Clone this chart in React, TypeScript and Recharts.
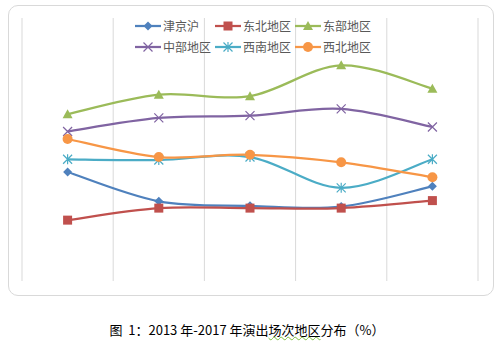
import { LineChart, Line, XAxis, YAxis, CartesianGrid } from 'recharts';

const years = ['2013', '2014', '2015', '2016', '2017'];
const jingjinghu = [14.5, 10.6, 10.0, 9.9, 12.6];
const dongbei = [8.1, 9.7, 9.7, 9.7, 10.7];
const dongbu = [22.2, 24.8, 24.6, 28.7, 25.6];
const zhongbu = [19.9, 21.7, 22.0, 22.9, 20.5];
const xinan = [16.2, 16.1, 16.5, 12.4, 16.2];
const xibei = [18.9, 16.5, 16.8, 15.8, 13.8];

const data = years.map((y, i) => ({
  year: y,
  jjh: jingjinghu[i],
  db: dongbei[i],
  dbu: dongbu[i],
  zb: zhongbu[i],
  xn: xinan[i],
  xb: xibei[i],
}));

type Shape = 'diamond' | 'square' | 'triangle' | 'x' | 'star' | 'circle';

const series: { key: string; name: string; color: string; shape: Shape }[] = [
  { key: 'jjh', name: '津京沪', color: '#4F81BD', shape: 'diamond' },
  { key: 'db', name: '东北地区', color: '#C0504D', shape: 'square' },
  { key: 'dbu', name: '东部地区', color: '#9BBB59', shape: 'triangle' },
  { key: 'zb', name: '中部地区', color: '#8064A2', shape: 'x' },
  { key: 'xn', name: '西南地区', color: '#4BACC6', shape: 'star' },
  { key: 'xb', name: '西北地区', color: '#F79646', shape: 'circle' },
];

// Excel-like smoothing (catmull-rom through the points)
const excelSmooth = (context: any) => {
  let xs: number[] = [];
  let ys: number[] = [];
  return {
    areaStart() {},
    areaEnd() {},
    lineStart() { xs = []; ys = []; },
    point(x: number, y: number) { xs.push(+x); ys.push(+y); },
    lineEnd() {
      const n = xs.length;
      if (!n) return;
      context.moveTo(xs[0], ys[0]);
      const t = 1 / 6;
      for (let i = 0; i < n - 1; i++) {
        const a = Math.max(i - 1, 0);
        const d = Math.min(i + 2, n - 1);
        context.bezierCurveTo(
          xs[i] + (xs[i + 1] - xs[a]) * t, ys[i] + (ys[i + 1] - ys[a]) * t,
          xs[i + 1] - (xs[d] - xs[i]) * t, ys[i + 1] - (ys[d] - ys[i]) * t,
          xs[i + 1], ys[i + 1],
        );
      }
    },
  };
};

function Marker({ cx, cy, shape, color }: { cx: number; cy: number; shape: Shape; color: string }) {
  switch (shape) {
    case 'diamond':
      return <path d={`M${cx},${cy - 4.5}L${cx + 4.5},${cy}L${cx},${cy + 4.5}L${cx - 4.5},${cy}Z`} fill={color} />;
    case 'square':
      return <rect x={cx - 4.5} y={cy - 4.5} width={9} height={9} fill={color} />;
    case 'triangle':
      return <path d={`M${cx},${cy - 5}L${cx + 5},${cy + 4}L${cx - 5},${cy + 4}Z`} fill={color} />;
    case 'x':
      return (
        <path d={`M${cx - 4.5},${cy - 4.5}L${cx + 4.5},${cy + 4.5}M${cx + 4.5},${cy - 4.5}L${cx - 4.5},${cy + 4.5}`}
          stroke={color} strokeWidth={1.2} fill="none" />
      );
    case 'star':
      return (
        <path d={`M${cx - 4.5},${cy - 4.5}L${cx + 4.5},${cy + 4.5}M${cx + 4.5},${cy - 4.5}L${cx - 4.5},${cy + 4.5}M${cx},${cy - 5}L${cx},${cy + 5}`}
          stroke={color} strokeWidth={1.2} fill="none" />
      );
    default:
      return <circle cx={cx} cy={cy} r={5} fill={color} />;
  }
}

const font = '"Noto Sans CJK SC", "Noto Sans", sans-serif';

export default function App() {
  return (
    <div style={{ position: 'absolute', left: 0, top: 0, width: 502, height: 348, background: '#fff', fontFamily: font }}>
      <div style={{ position: 'absolute', left: 8, top: 5, width: 484, height: 289, border: '1px solid #d9d9d9', borderRadius: 10 }} />
      <div style={{ position: 'absolute', left: 0, top: 0 }}>
        <LineChart width={502} height={300} data={data} margin={{ top: 18, right: 24, bottom: 19, left: 22 }}>
          <CartesianGrid
            horizontal={false}
            stroke="#d9d9d9"
            verticalCoordinatesGenerator={({ offset }: any) =>
              Array.from({ length: years.length + 1 }, (_, i) => offset.left + (i * offset.width) / years.length)
            }
          />
          <XAxis dataKey="year" scale="band" hide />
          <YAxis domain={[0, 35]} hide />
          {series.map(s => (
            <Line
              key={s.key}
              dataKey={s.key}
              name={s.name}
              type={excelSmooth as any}
              stroke={s.color}
              strokeWidth={2.25}
              isAnimationActive={false}
              dot={(p: any) => <Marker key={`${s.key}-${p.index}`} cx={p.cx} cy={p.cy} shape={s.shape} color={s.color} />}
              activeDot={false}
            />
          ))}
        </LineChart>
      </div>
      <div style={{ position: 'absolute', left: 135, top: 16, display: 'grid', gridTemplateColumns: 'repeat(3, 80px)', rowGap: 2 }}>
        {series.map(s => (
          <div key={s.key} style={{ display: 'flex', alignItems: 'center', height: 19 }}>
            <svg width={26} height={12} style={{ flex: 'none' }}>
              <line x1={0} y1={6} x2={26} y2={6} stroke={s.color} strokeWidth={2.25} />
              <Marker cx={13} cy={6} shape={s.shape} color={s.color} />
            </svg>
            <span style={{ fontSize: 12, color: '#595959', marginLeft: 2, whiteSpace: 'nowrap' }}>{s.name}</span>
          </div>
        ))}
      </div>
      <div style={{ position: 'absolute', left: 0, width: 494, top: 320, textAlign: 'center', fontSize: 13, color: '#000', whiteSpace: 'pre' }}>
        {'图  1：2013 年-2017 年演出'}
        <span style={{ textDecoration: 'underline wavy #7fbf3f', textDecorationThickness: 1 }}>场次地区</span>
        {'分布（%）'}
      </div>
    </div>
  );
}
